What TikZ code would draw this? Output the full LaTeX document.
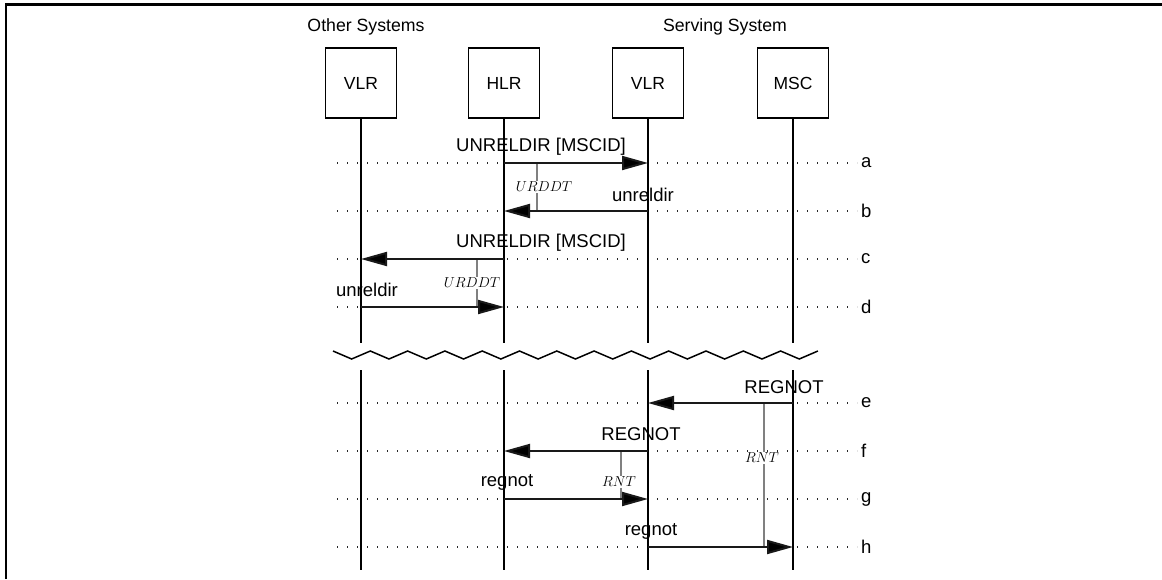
\documentclass[tikz,border=0pt]{standalone}
\usepackage{fontspec}
\setmainfont{Liberation Sans}
\usetikzlibrary{arrows.meta}
\begin{document}
\begin{tikzpicture}[x=1pt,y=-1pt,
  frameline/.style={line width=2.3pt,black},
  entbox/.style={draw,line width=1.2pt,minimum width=71pt,minimum height=70pt,inner sep=0pt,font=\fontsize{17.5}{19}\selectfont},
  heading/.style={font=\fontsize{17.7}{20}\selectfont,inner sep=0pt},
  lifeline/.style={line width=2pt,black},
  dotrow/.style={line width=1.2pt,dash pattern=on 1.2pt off 8.8pt,black!85},
  msg/.style={line width=2pt,black!90,-{Triangle[length=26pt,width=14pt,fill=black]}},
  msglabel/.style={font=\fontsize{18.5}{20}\selectfont,inner sep=0pt},
  rowlabel/.style={font=\fontsize{18.5}{20}\selectfont,inner sep=0pt,anchor=west},
  timer/.style={line width=2pt,black!50},
  timerlabel/.style={font=\fontsize{14.5}{16}\selectfont,fill=white,inner sep=1pt,text=black},
  wave/.style={line width=1.5pt,black}
]
\useasboundingbox (0,0) rectangle (1162,579);
% frame
\draw[frameline] (6,579) -- (6,4.5) -- (1162,4.5);
% headings
\node[heading] (hother) at (366,27) {Other Systems};
\node[heading] (hserv) at (725,27) {Serving System};
% entity boxes
\node[entbox] (ovlr) at (361,83) {VLR};
\node[entbox] (hlr) at (504,83) {HLR};
\node[entbox] (svlr) at (648,83) {VLR};
\node[entbox] (msc) at (793,83) {MSC};
% lifeline break and end coordinates
\foreach \n/\x in {ovlr/361,hlr/504,svlr/648,msc/793}{
  \coordinate (\n-gt) at (\x,343);
  \coordinate (\n-gb) at (\x,370);
  \coordinate (\n-end) at (\x,570);
  \foreach \r/\y in {a/163,b/211,c/259,d/307,e/403,f/451,g/499,h/547}{
    \coordinate (\n-\r) at (\x,\y);
  }
}
% dotted rows and row labels
\foreach \r/\y in {a/163,b/211,c/259,d/307,e/403,f/451,g/499,h/547}{
  \coordinate (L-\r) at (337,\y);
  \coordinate (R-\r) at (857,\y);
  \draw[dotrow] (L-\r) -- (R-\r);
  \node[rowlabel] (lab-\r) at (861,\y) {\r};
}
% lifelines
\foreach \n in {ovlr,hlr,svlr,msc}{
  \draw[lifeline] (\n.south) -- (\n-gt);
  \draw[lifeline] (\n-gb) -- (\n-end);
}
% wave
\draw[wave] (333,351) \foreach \i in {1,...,26}{ -- ({333+\i*18.65},{355-4*cos(180*\i)}) };
% timers
\coordinate (t1a) at (537,163); \coordinate (t1b) at (537,211);
\draw[timer] (t1a) -- (t1b);
\node[timerlabel] (t1l) at (544,187) {$URDDT$};
\coordinate (t2a) at (477,259); \coordinate (t2b) at (477,307);
\draw[timer] (t2a) -- (t2b);
\node[timerlabel] (t2l) at (472,283) {$URDDT$};
\coordinate (t3a) at (764,403); \coordinate (t3b) at (764,547);
\draw[timer] (t3a) -- (t3b);
\node[timerlabel] (t3l) at (762,458) {$RNT$};
\coordinate (t4a) at (621,451); \coordinate (t4b) at (621,499);
\draw[timer] (t4a) -- (t4b);
\node[timerlabel] (t4l) at (619,482) {$RNT$};
% messages
\draw[msg] (hlr-a) -- (svlr-a);
\node[msglabel] (ma) at (541,147) {UNRELDIR [MSCID]};
\draw[msg] (svlr-b) -- (hlr-b);
\node[msglabel] (mb) at (643,195) {unreldir};
\draw[msg] (hlr-c) -- (ovlr-c);
\node[msglabel] (mc) at (541,243) {UNRELDIR [MSCID]};
\draw[msg] (ovlr-d) -- (hlr-d);
\node[msglabel] (md) at (367,290) {unreldir};
\draw[msg] (msc-e) -- (svlr-e);
\node[msglabel] (me) at (784,387) {REGNOT};
\draw[msg] (svlr-f) -- (hlr-f);
\node[msglabel] (mf) at (641,434) {REGNOT};
\draw[msg] (hlr-g) -- (svlr-g);
\node[msglabel] (mg) at (507,482) {regnot};
\draw[msg] (svlr-h) -- (msc-h);
\node[msglabel] (mh) at (651,531) {regnot};
\end{tikzpicture}
\end{document}
